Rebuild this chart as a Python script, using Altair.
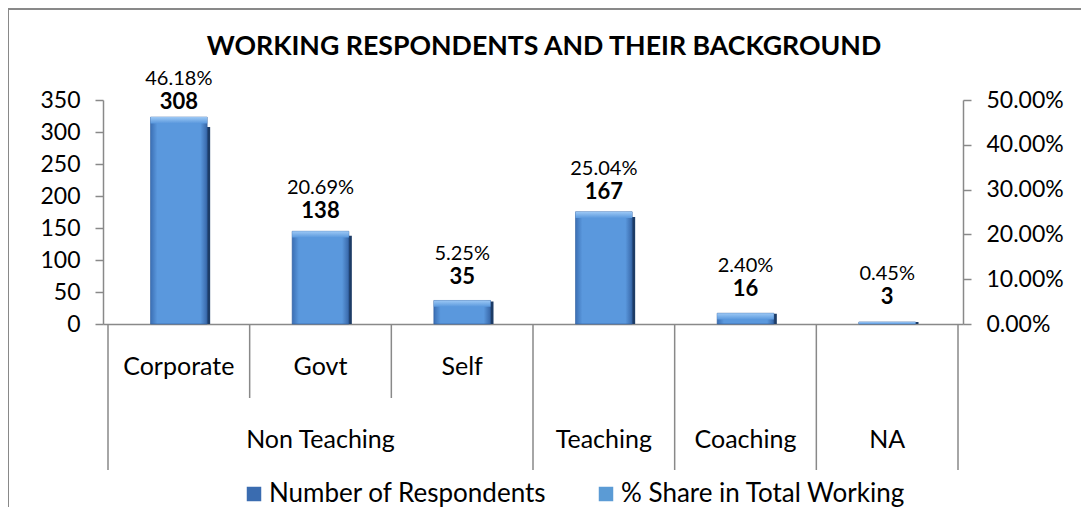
import altair as alt
import pandas as pd

# ---- data ----
subcats = ["Corporate", "Govt", "Self", "", "", ""]
groups = ["Non Teaching", "Non Teaching", "Non Teaching", "Teaching", "Coaching", "NA"]
respondents = [308, 138, 35, 167, 16, 3]
share = [0.4618, 0.2069, 0.0525, 0.2504, 0.0240, 0.0045]
series = ["Number of Respondents", "% Share in Total Working"]
title_text = "WORKING RESPONDENTS AND THEIR BACKGROUND"

W, H = 860, 224
FONT = "Lato"
GREY = "#898989"

df = pd.DataFrame({"idx": list(range(len(subcats))), "sub": subcats, "grp": groups,
                   "n": respondents, "share": share})
gdf = df.groupby("grp", sort=False)["idx"].mean().reset_index()
rows = []
for i in range(len(groups)):
    rows.append({"b": i - 0.5, "full": bool(i == 0 or groups[i] != groups[i - 1])})
rows.append({"b": len(groups) - 0.5, "full": True})
bdf = pd.DataFrame(rows)
one = pd.DataFrame({"t": [title_text]})

xs = alt.Scale(domain=[-0.5, len(subcats) - 0.5], nice=False, zero=False)
ys_n = alt.Scale(domain=[0, 350], nice=False)
ys_p = alt.Scale(domain=[0, 0.5], nice=False)

X_AXIS = alt.Axis(labels=False, ticks=False, title=None, grid=False,
                  domainColor=GREY, domainWidth=1.5)
Y_AXIS = alt.Axis(values=list(range(0, 351, 50)), title=None, grid=False, tickSize=8,
                  labelPadding=15, domainColor=GREY, tickColor=GREY, domainWidth=1.5,
                  tickWidth=1.5, labelFont=FONT, labelFontSize=23, labelColor="black",
                  labelOverlap=False)
P_AXIS = alt.Axis(orient="right", format=".2%", values=[0, 0.1, 0.2, 0.3, 0.4, 0.5],
                  title=None, grid=False, tickSize=8, labelPadding=15, domainColor=GREY,
                  tickColor=GREY, domainWidth=1.5, tickWidth=1.5, labelFont=FONT,
                  labelFontSize=23, labelColor="black", labelOverlap=False)

face = alt.Gradient(gradient="linear", x1=0, x2=1, y1=0, y2=0, stops=[
    alt.GradientStop(color="#3b6fb4", offset=0),
    alt.GradientStop(color="#5a98dd", offset=0.12),
    alt.GradientStop(color="#5a98dd", offset=0.88),
    alt.GradientStop(color="#3867a8", offset=1)])
bevel = alt.Gradient(gradient="linear", x1=0, x2=0, y1=0, y2=1, stops=[
    alt.GradientStop(color="#9cc8f5", offset=0),
    alt.GradientStop(color="#5a98dd", offset=1)])

bars_base = alt.Chart(df).transform_calculate(x1="datum.idx - 0.2", x2="datum.idx + 0.2")

count_bar = bars_base.mark_bar(color="#1d3c66", xOffset=3, x2Offset=3, orient="vertical").encode(
    x=alt.X("x1:Q", scale=xs, axis=X_AXIS), x2="x2:Q",
    y=alt.Y("n:Q", scale=ys_n, axis=Y_AXIS), y2=alt.Y2Datum(0))

count_text = alt.Chart(df).mark_text(font=FONT, fontSize=22, fontWeight="bold", dy=-25,
                                     baseline="middle", color="black").encode(
    x=alt.X("idx:Q", scale=xs, axis=X_AXIS), y=alt.Y("n:Q", scale=ys_n, axis=Y_AXIS), text="n:Q")
pct_text = alt.Chart(df).mark_text(font=FONT, fontSize=20, dy=-48, baseline="middle",
                                   color="black").encode(
    x=alt.X("idx:Q", scale=xs, axis=X_AXIS), y=alt.Y("n:Q", scale=ys_n, axis=Y_AXIS),
    text=alt.Text("share:Q", format=".2%"))

legend_helper = alt.Chart(df).transform_calculate(s="'%s'" % series[0]).mark_square(opacity=0).encode(
    x=alt.X("idx:Q", scale=xs, axis=X_AXIS), y=alt.Y("n:Q", scale=ys_n, axis=Y_AXIS),
    color=alt.Color("s:N", scale=alt.Scale(domain=series, range=["#3a6cb0", "#5b9bd5"]),
                    legend=alt.Legend(orient="none", legendX=138, legendY=381, direction="horizontal",
                                      title=None, symbolType="square", symbolSize=210,
                                      symbolOpacity=1, symbolStrokeWidth=0, labelFont=FONT,
                                      labelFontSize=26, labelColor="black", columnPadding=46,
                                      labelOffset=2, labelLimit=500)))

sep_full = alt.Chart(bdf).transform_filter("datum.full").mark_rule(color=GREY, strokeWidth=1.5).encode(
    x=alt.X("b:Q", scale=xs, axis=X_AXIS), y=alt.value(H), y2=alt.value(H + 146))
sep_short = alt.Chart(bdf).transform_filter("!datum.full").mark_rule(color=GREY, strokeWidth=1.5).encode(
    x=alt.X("b:Q", scale=xs, axis=X_AXIS), y=alt.value(H), y2=alt.value(H + 74))

sub_text = alt.Chart(df).mark_text(font=FONT, fontSize=25, baseline="middle", color="black").encode(
    x=alt.X("idx:Q", scale=xs, axis=X_AXIS), y=alt.value(H + 43), text="sub:N")
grp_text = alt.Chart(gdf).mark_text(font=FONT, fontSize=25, baseline="middle", color="black").encode(
    x=alt.X("idx:Q", scale=xs, axis=X_AXIS), y=alt.value(H + 116), text="grp:N")

title = alt.Chart(one).mark_text(font=FONT, fontSize=26.7, fontWeight="bold", baseline="middle",
                                 color="black").encode(
    x=alt.value(W / 2 + 11), y=alt.value(-53), text="t:N")

border_top = alt.Chart(one).mark_rule(color=GREY, strokeWidth=2).encode(
    x=alt.value(-95), x2=alt.value(W + 140), y=alt.value(-91))
border_left = alt.Chart(one).mark_rule(color=GREY, strokeWidth=2).encode(
    x=alt.value(-95), y=alt.value(-91), y2=alt.value(H + 200))

left_layer = alt.layer(border_top, border_left, title, count_bar, sep_full, sep_short,
                       sub_text, grp_text, count_text, pct_text, legend_helper)

pct_bar = bars_base.mark_bar(color=face, stroke="#2f5e9e", strokeWidth=0.6, orient="vertical").encode(
    x=alt.X("x1:Q", scale=xs, axis=X_AXIS), x2="x2:Q",
    y=alt.Y("share:Q", scale=ys_p, axis=P_AXIS), y2=alt.Y2Datum(0))
pct_bevel = bars_base.transform_calculate(bb="max(datum.share - 0.014, 0)").mark_bar(
    color=bevel, orient="vertical").encode(
    x=alt.X("x1:Q", scale=xs, axis=X_AXIS), x2="x2:Q",
    y=alt.Y("share:Q", scale=ys_p, axis=P_AXIS), y2="bb:Q")

right_layer = alt.layer(pct_bar, pct_bevel)

chart = alt.layer(left_layer, right_layer).resolve_scale(y="independent").properties(
    width=W, height=H,
    padding={"left": 95, "top": 92, "right": 118, "bottom": 183},
    autosize=alt.AutoSizeParams(type="none"),
).configure_view(stroke=None)

chart.save("out.html", embed_options={"renderer": "svg", "actions": False})
